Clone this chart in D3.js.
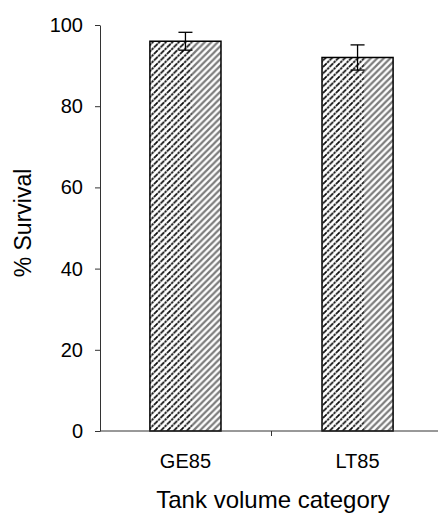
<!DOCTYPE html>
<html><head><meta charset="utf-8">
<script src="https://cdn.jsdelivr.net/npm/d3@7"></script>
<style>html,body{margin:0;padding:0;background:#fff;} svg{display:block;}</style>
</head><body>
<svg id="chart" width="438" height="516"></svg>
<script>
const categories = ["GE85", "LT85"];
const survival = [96.0, 92.0];
const errors = [2.2, 3.1];
const yTicks = [0, 20, 40, 60, 80, 100];
const yLabel = "% Survival";
const xLabel = "Tank volume category";

const svg = d3.select("#chart");
const font = "Liberation Sans, Arial, sans-serif";

const y = d3.scaleLinear().domain([0, 100]).range([431, 25]);
const x = d3.scaleBand().domain(categories).range([100, 443]).paddingInner(0.587).paddingOuter(0.29);

const defs = svg.append("defs");
function hatch(id, color, blur) {
  const s = 6.5;
  const p = defs.append("pattern").attr("id", id).attr("patternUnits", "userSpaceOnUse")
    .attr("width", s).attr("height", s);
  p.append("rect").attr("width", s).attr("height", s).attr("fill", "#fff");
  p.append("path").attr("d", `M0,${s} L${s},0 M-1,1 L1,-1 M${s-1},${s+1} L${s+1},${s-1}`)
    .attr("stroke", color).attr("stroke-width", blur ? 2.2 : 1.7)
    .attr("stroke-dasharray", blur ? null : "2.4,0.8");
}
hatch("hBlack", "#000", false);
hatch("hGray", "#7c7c7c", true);

// bars
const bw = x.bandwidth();
const split = 0.59;
const g = svg.append("g");
categories.forEach((c, i) => {
  const x0 = x(c), top = y(survival[i]), h = y(0) - y(survival[i]);
  g.append("rect").attr("x", x0).attr("y", top).attr("width", bw * split).attr("height", h).attr("fill", "url(#hBlack)");
  g.append("rect").attr("x", x0 + bw * split).attr("y", top).attr("width", bw * (1 - split)).attr("height", h).attr("fill", "url(#hGray)");
  g.append("rect").attr("x", x0).attr("y", top).attr("width", bw).attr("height", h)
    .attr("fill", "none").attr("stroke", "#000").attr("stroke-width", 1.5);
  // error bar
  const cx = x0 + bw / 2;
  const yt = y(survival[i] + errors[i]), yb = y(survival[i] - errors[i]);
  g.append("line").attr("x1", cx).attr("x2", cx).attr("y1", yt).attr("y2", yb).attr("stroke", "#000").attr("stroke-width", 1.3);
  g.append("line").attr("x1", cx - 7).attr("x2", cx + 7).attr("y1", yt).attr("y2", yt).attr("stroke", "#000").attr("stroke-width", 1.3);
  g.append("line").attr("x1", cx - 7).attr("x2", cx + 7).attr("y1", yb).attr("y2", yb).attr("stroke", "#000").attr("stroke-width", 1.3);
});

// y axis
const yAxis = svg.append("g").attr("transform", "translate(100,0)")
  .call(d3.axisLeft(y).tickValues(yTicks).tickSize(5).tickPadding(12).tickSizeOuter(0));
yAxis.select(".domain").attr("stroke", "#333");
yAxis.selectAll(".tick line").attr("stroke", "#333");
yAxis.selectAll("text").attr("font-family", font).attr("font-size", 20).attr("fill", "#000");

// x axis
const xAxisY = y(0);
svg.append("line").attr("x1", 100).attr("x2", 438).attr("y1", xAxisY).attr("y2", xAxisY).attr("stroke", "#333");
const step = x.step();
const boundaries = categories.slice(0, -1).map(c => x(c) + bw + step * x.paddingInner() / 2);
svg.selectAll(".xtick").data(boundaries).enter().append("line")
  .attr("x1", d => d).attr("x2", d => d).attr("y1", xAxisY).attr("y2", xAxisY + 5).attr("stroke", "#333");
svg.selectAll(".xlab").data(categories).enter().append("text")
  .attr("x", d => x(d) + bw / 2).attr("y", 468).attr("text-anchor", "middle")
  .attr("font-family", font).attr("font-size", 20).attr("fill", "#000").text(d => d);

// axis titles
svg.append("text").attr("x", 273).attr("y", 508).attr("text-anchor", "middle")
  .attr("font-family", font).attr("font-size", 24).attr("fill", "#000").text(xLabel);
svg.append("text").attr("transform", "translate(31,223) rotate(-90)").attr("text-anchor", "middle")
  .attr("font-family", font).attr("font-size", 23).attr("fill", "#000").text(yLabel);
</script>
</body></html>
